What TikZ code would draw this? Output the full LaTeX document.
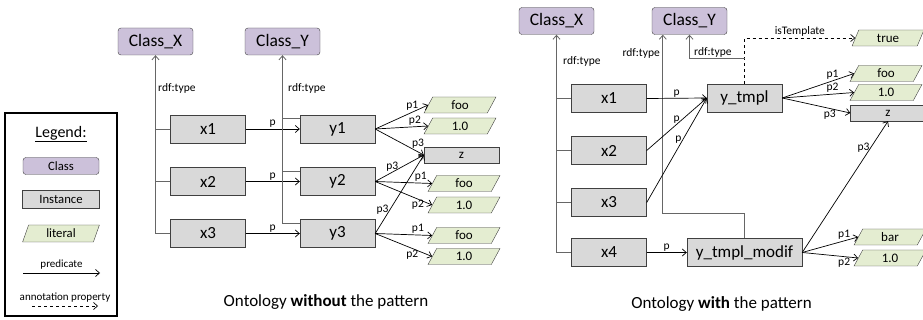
\documentclass[tikz,border=0pt]{standalone}
\usepackage{fontspec}
\setmainfont{Carlito}
\usetikzlibrary{positioning,arrows.meta,shapes.geometric,calc}

\definecolor{classfill}{RGB}{204,193,218}
\definecolor{instfill}{RGB}{217,217,217}
\definecolor{litfill}{RGB}{228,237,209}
\definecolor{boxline}{RGB}{64,64,64}
\newcommand{\pxfont}[1]{\fontsize{#1}{#1}\selectfont}

\begin{document}
\begin{tikzpicture}[
  x=1pt, y=-1pt,
  cls/.style  ={draw=boxline,fill=classfill,rounded corners=3pt,minimum width=75pt,minimum height=27pt,inner sep=0pt,font=\pxfont{17.5}},
  inst/.style ={draw=boxline,fill=instfill,minimum width=75pt,minimum height=28pt,inner sep=0pt,font=\pxfont{17}},
  lit/.style  ={trapezium,trapezium left angle=73,trapezium right angle=107,trapezium stretches=true,
                draw=boxline,fill=litfill,minimum width=72pt,minimum height=16pt,inner sep=0pt,font=\pxfont{13}},
  val/.style  ={draw=boxline,fill=instfill,minimum width=75pt,minimum height=16pt,inner sep=0pt,font=\pxfont{13}},
  pred/.style ={-{Straight Barb[length=4pt,width=7pt]},line width=0.7pt},
  annot/.style={pred,dashed},
  typline/.style={draw=black!60,line width=0.8pt},
  tip/.style  ={-{Straight Barb[length=4pt,width=7pt]}},
  lbl/.style  ={font=\pxfont{11.5},inner sep=1pt}]
\useasboundingbox (0,0) rectangle (923,320);

% --- Legend ---
\draw[line width=1.3pt] (5,113) rectangle (117,316);
\node[font=\pxfont{16}] (legtitle) at (61,134) {\underline{Legend:}};
\node[cls,minimum width=76pt,minimum height=17pt,font=\pxfont{12.7}] (legcls) at (61,166) {Class};
\node[inst,minimum width=77pt,minimum height=18pt,font=\pxfont{12.7}] (leginst) at (61,199) {Instance};
\node[lit,minimum width=77pt,minimum height=17pt,font=\pxfont{12.7}] (leglit) at (61,233.5) {literal};
\coordinate (legp0) at (23,273);
\coordinate (legp1) at (100,273);
\draw[pred] (legp0) -- (legp1) node[midway,above,font=\pxfont{11}] {predicate};
\coordinate (lega0) at (32,306);
\coordinate (lega1) at (98,306);
\draw[annot] (lega0) -- (lega1) node[midway,above,font=\pxfont{11}] {annotation property};

% --- Ontology without the pattern ---
\node[cls] (lcx) at (155.5,41.5) {Class\_X};
\node[cls] (lcy) at (282.5,41.5) {Class\_Y};
\foreach \i/\yy in {1/129,2/181.5,3/233.5}{
  \node[inst] (lx\i) at (208,\yy) {x\i};
  \node[inst] (ly\i) at (337.5,\yy) {y\i};
  \draw[pred] (lx\i.east) -- (ly\i.west) node[midway,above,lbl] {p};
}
\node[lit] (lf1) at (460,105) {foo};
\node[lit] (ln1) at (460,126) {1.0};
\node[val] (lz)  at (461.5,155) {z};
\node[lit] (lf2) at (464,183.5) {foo};
\node[lit] (ln2) at (464,205) {1.0};
\node[lit] (lf3) at (464,235.5) {foo};
\node[lit] (ln3) at (464,256.5) {1.0};
% rdf:type to the classes
\draw[typline,tip] (lx3.west) -| (lcx.south);
\draw[typline] (lx1.west) -- (lx1.west -| lcx.south);
\draw[typline] (lx2.west) -- (lx2.west -| lcx.south);
\node[lbl,anchor=west] at (157,88) {rdf:type};
\draw[typline,tip] ([yshift=-4pt]ly3.north west) -| (lcy.south);
\draw[typline] ([yshift=-4pt]ly1.north west) -- ++(-17.5,0);
\draw[typline] ([yshift=-4pt]ly2.north west) -- ++(-17.5,0);
\node[lbl,anchor=west] at (287,88) {rdf:type};
% values of y1, y2, y3
\draw[pred] (ly1.east) -- (lf1.west) node[pos=0.7,above,lbl] {p1};
\draw[pred] (ly1.east) -- (ln1.west) node[pos=0.75,above,lbl] {p2};
\draw[pred] (ly1.east) -- (lz.west)  node[pos=0.75,above right,lbl,inner sep=0pt] {p3};
\draw[pred] (ly2.east) -- (lz.west)  node[pos=0.35,above,lbl] {p3};
\draw[pred] (ly2.east) -- (lf2.west) node[pos=0.8,above,lbl] {p1};
\draw[pred] (ly2.east) -- (ln2.west) node[pos=0.75,below,lbl] {p2};
\draw[pred] (ly3.east) -- (lz.west)  node[pos=0.3,left,lbl] {p3};
\draw[pred] (ly3.east) -- (lf3.west) node[pos=0.75,above,lbl] {p1};
\draw[pred] (ly3.east) -- (ln3.west) node[pos=0.65,below,lbl] {p2};
\node[font=\pxfont{17}] (lcap) at (326,302) {Ontology \textbf{without} the pattern};

% --- Ontology with the pattern ---
\node[cls] (rcx) at (556.5,21) {Class\_X};
\node[cls] (rcy) at (689.5,21) {Class\_Y};
\foreach \i/\yy in {1/98.5,2/150.5,3/202.5,4/252.5}
  \node[inst] (rx\i) at (609,\yy) {x\i};
\node[inst] (tmpl) at (744.5,98) {y\_tmpl};
\node[inst,minimum width=115pt] (modif) at (744.5,252.5) {y\_tmpl\_modif};
\node[lit] (rtrue) at (888,38) {true};
\node[lit] (rfoo)  at (886,73.5) {foo};
\node[lit] (rnum)  at (886,92.5) {1.0};
\node[val] (rz)    at (888,113) {z};
\node[lit] (rbar)  at (890,237) {bar};
\node[lit] (rnum2) at (890,258) {1.0};
% rdf:type to the classes
\draw[typline,tip] (rx4.west) -| (rcx.south);
\foreach \i in {1,2,3}
  \draw[typline] (rx\i.west) -- (rx\i.west -| rcx.south);
\node[lbl,anchor=west] at (562,61) {rdf:type};
\draw[typline,tip] (modif.north) -- ++(0,-25) -| ([xshift=11pt]rcy.south west);
\node[lbl,anchor=east] at (661,53) {rdf:type};
\draw[annot] (tmpl.north) |- (rtrue.west) node[pos=0.75,above,lbl] {isTemplate};
\coordinate (tmplup) at ([yshift=25pt]tmpl.north);
\draw[typline,tip] (tmplup) -| (rcy.south);
\node[lbl,anchor=west] at (693,52) {rdf:type};
% p links into the templates
\draw[pred] (rx1.east) -- (tmpl.west) node[midway,above,lbl] {p};
\draw[pred] (rx2.east) -- (tmpl.west) node[midway,above,lbl] {p};
\draw[pred] (rx3.east) -- (tmpl.west) node[pos=0.6,left,lbl] {p};
\draw[pred] (rx4.east) -- (modif.west) node[midway,above,lbl] {p};
% values of the templates
\draw[pred] (tmpl.east) -- (rfoo.west) node[pos=0.7,above,lbl] {p1};
\draw[pred] (tmpl.east) -- (rnum.west) node[pos=0.7,above,lbl] {p2};
\draw[pred] (tmpl.east) -- (rz.west)   node[pos=0.7,below,lbl] {p3};
\draw[pred] (modif.east) -- (rz.south) node[pos=0.8,left,lbl] {p3};
\draw[pred] (modif.east) -- (rbar.west) node[pos=0.75,above,lbl] {p1};
\draw[pred] (modif.east) -- (rnum2.west) node[pos=0.75,below,lbl] {p2};
\node[font=\pxfont{17}] (rcap) at (721.5,304) {Ontology \textbf{with} the pattern};
\end{tikzpicture}
\end{document}
